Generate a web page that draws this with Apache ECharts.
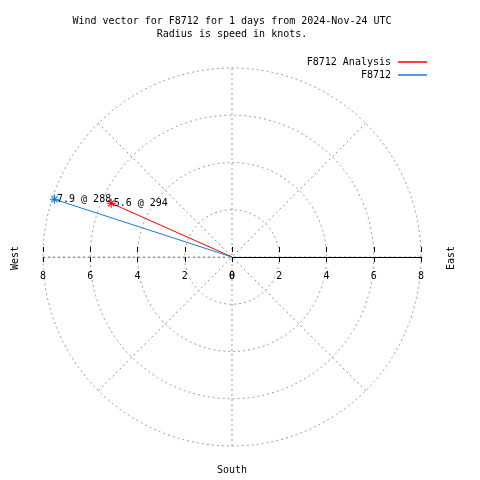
<!DOCTYPE html>
<html>
<head>
<meta charset="utf-8">
<script src="https://cdn.jsdelivr.net/npm/echarts@6/dist/echarts.min.js"></script>
<style>html,body{margin:0;padding:0;background:#fff;}#c{width:480px;height:480px;}</style>
</head>
<body>
<div id="c"></div>
<script>
const titleLines = ['Wind vector for F8712 for 1 days from 2024-Nov-24 UTC', 'Radius is speed in knots.'];
const seriesNames = ['F8712 Analysis', 'F8712'];
const seriesColors = ['#ff0000', '#1c78dc'];
const speeds = [5.6, 7.9];
const directions = [294, 288];
const radiusMax = 8;
const radiusStep = 2;
const compassLabels = ['West', 'East', 'South'];

const FONT = '"DejaVu Sans Mono", "Liberation Mono", monospace';
const CX = 232, CY = 257, R = 189;
const gridDash = { color: '#999999', width: 1, type: [2, 3] };
const starPath = 'path://M-0.6,-5L0.6,-5L0.6,5L-0.6,5Z M-5,-0.6L5,-0.6L5,0.6L-5,0.6Z M-3.9,-3.1L-3.1,-3.9L3.9,3.1L3.1,3.9Z M3.1,-3.9L3.9,-3.1L-3.1,3.9L-3.9,3.1Z';

const chart = echarts.init(document.getElementById('c'), null, { renderer: 'canvas' });

const series = seriesNames.map((name, i) => ({
  name: name,
  type: 'line',
  coordinateSystem: 'polar',
  polarIndex: 0,
  color: seriesColors[i],
  lineStyle: { width: 1, color: seriesColors[i] },
  animation: false,
  z: 10,
  data: [
    { value: [0, directions[i]], symbol: 'none' },
    {
      value: [speeds[i], directions[i]],
      symbol: starPath,
      symbolSize: 9,
      itemStyle: { color: seriesColors[i] },
      label: {
        show: true,
        position: 'right',
        distance: -2,
        color: '#000',
        fontFamily: FONT,
        fontSize: 10,
        formatter: speeds[i].toFixed(1) + ' @ ' + directions[i]
      }
    }
  ]
}));

const absFmt = v => String(Math.abs(v));

const option = {
  animation: false,
  backgroundColor: '#fff',
  title: {
    text: titleLines.join('\n'),
    left: 227,
    textAlign: 'center',
    top: 10,
    textStyle: { fontFamily: FONT, fontSize: 10, fontWeight: 'normal', color: '#000', lineHeight: 13 }
  },
  legend: [
    {
      data: [seriesNames[0]], right: 53, top: 57, align: 'right', icon: 'rect', padding: 0,
      itemWidth: 29, itemHeight: 1.5, textStyle: { fontFamily: FONT, fontSize: 10, color: '#000', padding: [0, 2, 0, 0] }
    },
    {
      data: [seriesNames[1]], right: 53, top: 70, align: 'right', icon: 'rect', padding: 0,
      itemWidth: 29, itemHeight: 1.5, textStyle: { fontFamily: FONT, fontSize: 10, color: '#000', padding: [0, 2, 0, 0] }
    }
  ],
  polar: { center: [CX, CY], radius: R },
  angleAxis: {
    polarIndex: 0, type: 'value', min: 0, max: 360, interval: 45,
    startAngle: 90, clockwise: true,
    axisLine: { show: false }, axisTick: { show: false }, axisLabel: { show: false },
    splitLine: { show: true, lineStyle: gridDash }
  },
  radiusAxis: {
    polarIndex: 0, type: 'value', min: 0, max: radiusMax, interval: radiusStep,
    axisLine: { show: false }, axisTick: { show: false }, axisLabel: { show: false },
    splitLine: { show: true, lineStyle: gridDash }
  },
  grid: [
    { left: CX - R, width: R, top: CY - 10, height: 20 },
    { left: CX, width: R, top: CY - 10, height: 20 }
  ],
  xAxis: [
    {
      gridIndex: 0, type: 'value', min: -radiusMax, max: 0, interval: radiusStep,
      axisLine: { onZero: true, lineStyle: gridDash },
      axisTick: { show: true, length: 5, lineStyle: { color: '#000' } },
      axisLabel: { margin: 4, formatter: absFmt, fontFamily: FONT, fontSize: 10, color: '#000' },
      splitLine: { show: false }
    },
    {
      gridIndex: 1, type: 'value', min: 0, max: radiusMax, interval: radiusStep,
      axisLine: { onZero: true, lineStyle: { color: '#000', width: 1 } },
      axisTick: { show: true, length: 5, lineStyle: { color: '#000' } },
      axisLabel: { margin: 4, formatter: absFmt, fontFamily: FONT, fontSize: 10, color: '#000' },
      splitLine: { show: false }
    },
    {
      gridIndex: 0, type: 'value', min: -radiusMax, max: 0, interval: radiusStep,
      axisLine: { onZero: true, show: false },
      axisTick: { show: true, inside: true, length: 5, lineStyle: { color: '#000' } },
      axisLabel: { show: false }, splitLine: { show: false }
    },
    {
      gridIndex: 1, type: 'value', min: 0, max: radiusMax, interval: radiusStep,
      axisLine: { onZero: true, show: false },
      axisTick: { show: true, inside: true, length: 5, lineStyle: { color: '#000' } },
      axisLabel: { show: false }, splitLine: { show: false }
    }
  ],
  yAxis: [
    { gridIndex: 0, type: 'value', min: -1, max: 1, show: false },
    { gridIndex: 1, type: 'value', min: -1, max: 1, show: false }
  ],
  graphic: [
    { type: 'text', x: 15, y: CY + 1, rotation: Math.PI / 2,
      style: { text: compassLabels[0], font: '10px ' + FONT, fill: '#000', align: 'center', verticalAlign: 'middle' } },
    { type: 'text', x: 451, y: CY + 1, rotation: Math.PI / 2,
      style: { text: compassLabels[1], font: '10px ' + FONT, fill: '#000', align: 'center', verticalAlign: 'middle' } },
    { type: 'text', x: CX, y: 470,
      style: { text: compassLabels[2], font: '10px ' + FONT, fill: '#000', align: 'center', verticalAlign: 'middle' } }
  ],
  series: series
};
chart.setOption(option);
</script>
</body>
</html>
